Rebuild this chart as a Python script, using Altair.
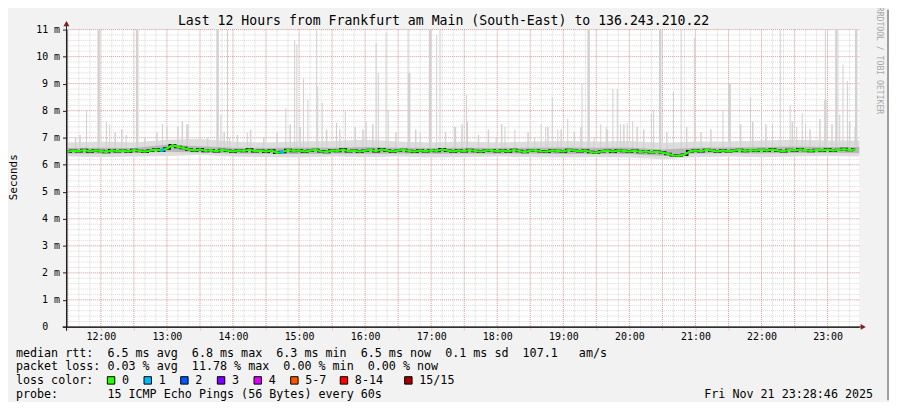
import altair as alt
import pandas as pd

MONO = "DejaVu Sans Mono"

# ---------------- text ----------------
TITLE = "Last 12 Hours from Frankfurt am Main (South-East) to 136.243.210.22"
SIDE_TEXT = "RRDTOOL / TOBI OETIKER"
Y_TITLE = "Seconds"
STAMP = "Fri Nov 21 23:28:46 2025"
legend_rows = [
    "median rtt:  6.5 ms avg  6.8 ms max  6.3 ms min  6.5 ms now  0.1 ms sd  107.1   am/s",
    "packet loss: 0.03 % avg  11.78 % max  0.00 % min  0.00 % now",
    "loss color:",
    "probe:       15 ICMP Echo Pings (56 Bytes) every 60s",
]
loss_labels = ["0", "1", "2", "3", "4", "5-7", "8-14", "15/15"]
loss_colors = ["#26ff00", "#00b8ff", "#0059ff", "#7e00ff", "#dd00ff", "#ff5500", "#ff0000", "#a10000"]

# ---------------- data ----------------
END_HOUR = 23 + 28.77 / 60          # graph ends 23:28:46
START_HOUR = END_HOUR - 12

median_first = "11:30"              # one value every 5 minutes
median_ms = [
    6.48, 6.52, 6.50, 6.55, 6.49, 6.53,
    6.51, 6.47, 6.54, 6.50, 6.52, 6.49, 6.55, 6.51, 6.48, 6.53, 6.56, 6.52,
    6.60, 6.72, 6.66, 6.62, 6.56, 6.53, 6.57, 6.51, 6.54, 6.50, 6.55, 6.52,
    6.49, 6.53, 6.51, 6.56, 6.50, 6.52, 6.48, 6.53, 6.44, 6.47, 6.55, 6.51,
    6.53, 6.49, 6.52, 6.55, 6.50, 6.47, 6.53, 6.51, 6.56, 6.50, 6.52, 6.48,
    6.52, 6.55, 6.50, 6.57, 6.53, 6.49, 6.52, 6.55, 6.51, 6.48, 6.53, 6.50,
    6.54, 6.51, 6.57, 6.52, 6.49, 6.53, 6.50, 6.55, 6.51, 6.48, 6.52, 6.54,
    6.50, 6.53, 6.49, 6.55, 6.51, 6.47, 6.52, 6.54, 6.50, 6.48, 6.53, 6.51,
    6.49, 6.55, 6.52, 6.50, 6.53, 6.47, 6.45, 6.50, 6.52, 6.48, 6.53, 6.51,
    6.49, 6.52, 6.47, 6.50, 6.46, 6.48, 6.45, 6.40, 6.35, 6.34, 6.37, 6.50,
    6.53, 6.50, 6.55, 6.52, 6.49, 6.53, 6.50, 6.52, 6.55, 6.51, 6.54, 6.52,
    6.55, 6.52, 6.56, 6.53, 6.50, 6.55, 6.53, 6.57, 6.54, 6.51, 6.55, 6.53,
    6.56, 6.52, 6.55, 6.58, 6.54, 6.57,
]

loss1_times = ["12:56", "14:44"]
loss1_ms = [6.55, 6.47]

smoke_times = ["11:30", "12:00", "12:30", "13:00", "13:30", "14:00", "14:30", "15:00",
               "15:30", "16:00", "16:30", "17:00", "17:30", "18:00", "18:30", "19:00",
               "19:30", "20:00", "20:30", "21:00", "21:30", "22:00", "22:30", "23:00", "23:30"]
light_lo = [6.30, 6.28, 6.30, 6.32, 6.36, 6.30, 6.28, 6.27, 6.30, 6.28, 6.30, 6.27, 6.28,
            6.30, 6.28, 6.27, 6.28, 6.27, 6.20, 6.28, 6.30, 6.28, 6.30, 6.32, 6.30]
light_hi = [6.82, 6.86, 6.82, 6.92, 6.95, 6.86, 6.82, 6.86, 6.88, 6.92, 6.86, 6.82, 6.86,
            6.82, 6.86, 6.88, 6.86, 6.88, 6.80, 6.86, 6.86, 6.90, 6.92, 6.90, 6.90]
dark_lo = [6.42, 6.41, 6.43, 6.48, 6.45, 6.42, 6.41, 6.40, 6.42, 6.41, 6.42, 6.41, 6.42,
           6.41, 6.42, 6.40, 6.41, 6.40, 6.32, 6.42, 6.43, 6.42, 6.43, 6.44, 6.43]
dark_hi = [6.62, 6.63, 6.62, 6.74, 6.68, 6.63, 6.62, 6.64, 6.63, 6.66, 6.63, 6.62, 6.63,
           6.62, 6.63, 6.64, 6.63, 6.64, 6.56, 6.63, 6.64, 6.66, 6.67, 6.66, 6.66]

spike_times = ["11:47", "12:05", "12:08", "12:23", "12:56", "13:00", "13:18", "13:49", "13:55",
               "13:57", "14:13", "14:48", "14:56", "14:58", "15:04", "15:08", "15:16", "15:17",
               "15:21", "15:34", "15:42", "16:01", "16:10", "16:12", "16:19", "16:21", "16:39",
               "16:50", "17:05", "17:08", "17:21", "17:32", "17:33", "17:59", "18:07", "18:16",
               "18:34", "18:40", "18:44", "18:50", "18:55", "19:04", "19:17", "19:28", "19:34",
               "19:39", "19:45", "19:49", "19:52", "19:58", "20:03", "20:20", "20:22", "20:40",
               "20:47", "20:59", "21:25", "21:50", "22:00", "22:10", "22:17", "22:26", "22:32",
               "22:37", "22:40", "22:58", "23:11", "23:14", "23:18"]
spike_top = [8.0, 7.6, 7.5, 7.1, 7.5, 7.4, 7.5, 7.85, 11.0,
             7.0, 7.2, 8.1, 10.6, 10.45, 9.2, 8.4, 11.0, 8.9,
             8.3, 7.55, 8.0, 7.6, 10.5, 9.4, 10.9, 8.0, 11.0,
             7.2, 10.8, 11.0, 7.4, 8.6, 7.6, 7.0, 7.4, 7.3,
             7.0, 7.5, 7.4, 8.5, 7.3, 7.7, 9.0, 7.0, 7.5,
             7.4, 8.8, 8.8, 7.5, 7.55, 7.6, 7.9, 8.0, 8.7,
             11.0, 10.7, 8.0, 8.5, 8.2, 7.5, 11.0, 8.2, 7.4,
             7.9, 7.5, 11.0, 7.85, 9.7, 9.1]

short_times = ["11:37", "11:41", "12:13", "12:19", "12:40", "12:51", "13:10", "13:14", "13:19",
               "13:37", "13:52", "14:04", "14:16", "14:28", "14:40", "14:52", "15:01", "15:25",
               "15:37", "15:51", "15:58", "16:07", "16:28", "16:46", "17:13", "17:22", "17:28",
               "17:43", "17:52", "18:04", "18:28", "18:46", "18:58", "19:10", "19:16", "19:40",
               "19:55", "20:07", "20:13", "20:34", "20:52", "21:05", "21:14", "21:41", "21:52",
               "22:04", "22:28", "22:44", "22:53", "23:04", "23:20", "23:25"]
short_top = [7.0, 7.1, 7.2, 7.3, 7.0, 7.2, 7.4, 7.6, 7.5,
             7.0, 7.2, 7.1, 7.3, 7.0, 7.2, 7.5, 7.4, 7.3,
             7.3, 7.4, 7.3, 7.5, 7.2, 7.3, 7.2, 7.4, 7.5,
             7.1, 7.3, 7.5, 7.2, 7.4, 7.3, 7.2, 7.4, 7.3,
             7.5, 7.4, 7.3, 7.2, 7.4, 7.2, 7.3, 7.5, 7.6,
             7.5, 7.6, 7.3, 7.7, 7.5, 7.6, 7.4]

heavy_times = ["11:58", "12:33", "13:46", "16:40", "16:59", "19:23", "20:28", "21:31",
               "22:58", "23:08", "23:26"]
heavy_top = [11.0, 11.0, 11.0, 9.4, 11.0, 11.0, 11.0, 9.0, 8.4, 11.0, 11.0]


def hrs(s):
    h, m = s.split(":")
    return int(h) + int(m) / 60


h0 = hrs(median_first)
med_df = pd.DataFrame({"t": [h0 + i * 5 / 60 for i in range(len(median_ms))], "ms": median_ms})
loss1_df = pd.DataFrame({"t": [hrs(s) for s in loss1_times], "ms": loss1_ms})
smoke_df = pd.DataFrame({"t": [hrs(s) for s in smoke_times], "llo": light_lo, "lhi": light_hi,
                         "dlo": dark_lo, "dhi": dark_hi})
spike_df = pd.DataFrame({"t": [hrs(s) for s in spike_times], "top": spike_top})
short_df = pd.DataFrame({"t": [hrs(s) for s in short_times], "top": short_top})
heavy_df = pd.DataFrame({"t": [hrs(s) for s in heavy_times], "top": heavy_top})

major_x = [11.5 + k * 0.5 for k in range(24)]
minor_x = [11.5 + k / 6 for k in range(72)]
major_y = list(range(1, 12))
minor_y = [round(k * 0.2, 2) for k in range(1, 56)]

# ---------------- layout (pixels, plot origin) ----------------
W, H = 800, 300
OX, OY = 67, 28          # page position of plot origin (incl. 8px page margin)


def px(x):
    return x - OX


def py(y):
    return y - OY


xs = alt.Scale(domain=[START_HOUR, END_HOUR], nice=False, zero=False)
ys = alt.Scale(domain=[0, 11], nice=False, zero=False)

x_axis = alt.Axis(values=major_x, labelOverlap=False,
                  labelExpr="abs(datum.value - round(datum.value)) < 0.01 ? round(datum.value) + ':00' : ''",
                  labelFont=MONO, labelFontSize=10, labelColor="#000000", labelPadding=2,
                  tickColor="#DE5050", tickOpacity=0.5, tickDash=[1, 1], tickSize=3,
                  domainColor="#1F1F1F", domainWidth=1, grid=False, title=None, zindex=1,
                  labelFlush=False)
y_axis = alt.Axis(values=list(range(0, 12)), labelOverlap=False,
                  labelExpr="datum.value == 0 ? '0' : datum.value + ' m'",
                  labelFont=MONO, labelFontSize=10, labelColor="#000000",
                  labelPadding={"condition": {"test": "datum.value == 0", "value": 15}, "value": 3},
                  tickColor="#1F1F1F", tickSize=4, domainColor="#1F1F1F", domainWidth=1,
                  grid=False, title=None, zindex=1)

gx = alt.X("t:Q", scale=xs, axis=None)

grid_minor_v = alt.Chart(pd.DataFrame({"t": minor_x})).mark_rule(
    color="#8F8F8F", opacity=0.35, strokeDash=[1, 1], strokeWidth=1).encode(x=gx)
grid_minor_h = alt.Chart(pd.DataFrame({"v": minor_y})).mark_rule(
    color="#8F8F8F", opacity=0.35, strokeDash=[1, 1], strokeWidth=1).encode(
    y=alt.Y("v:Q", scale=ys, axis=None))
grid_major_v = alt.Chart(pd.DataFrame({"t": major_x})).mark_rule(
    color="#DE5050", opacity=0.4, strokeDash=[1, 1], strokeWidth=1).encode(x=gx)
grid_major_h = alt.Chart(pd.DataFrame({"v": major_y})).mark_rule(
    color="#DE5050", opacity=0.4, strokeDash=[1, 1], strokeWidth=1).encode(
    y=alt.Y("v:Q", scale=ys, axis=None))

light = alt.Chart(smoke_df).mark_area(color="#DDDDDD", opacity=1, clip=True).encode(
    x=gx, y=alt.Y("llo:Q", scale=ys, axis=None), y2="lhi:Q")
shorts = alt.Chart(short_df).mark_rule(color="#D2D2D2", strokeWidth=1.5).encode(
    x=gx, y=alt.Y("top:Q", scale=ys, axis=None), y2=alt.datum(6.5))
spikes = alt.Chart(spike_df).mark_rule(color="#CFCFCF", strokeWidth=1).encode(
    x=gx, y=alt.Y("top:Q", scale=ys, axis=None), y2=alt.datum(6.5))
heavy = alt.Chart(heavy_df).mark_rule(color="#D2D2D2", strokeWidth=2.5).encode(
    x=gx, y=alt.Y("top:Q", scale=ys, axis=None), y2=alt.datum(6.5))
dark = alt.Chart(smoke_df).mark_area(color="#A8A8A8", opacity=0.7, clip=True).encode(
    x=gx, y=alt.Y("dlo:Q", scale=ys, axis=None), y2="dhi:Q")

black_line = alt.Chart(med_df).mark_line(color="#111111", strokeWidth=2.5, interpolate="step").encode(
    x=gx, y=alt.Y("ms:Q", scale=ys, axis=None))
green_line = alt.Chart(med_df).mark_line(color="#26ff00", strokeWidth=2.2).encode(
    x=alt.X("t:Q", scale=xs, axis=x_axis), y=alt.Y("ms:Q", scale=ys, axis=y_axis))
loss1 = alt.Chart(loss1_df).mark_square(color="#00b8ff", size=12, opacity=1).encode(
    x=gx, y=alt.Y("ms:Q", scale=ys, axis=None))

one = pd.DataFrame({"a": [0]})
y_ext = alt.Chart(one).mark_rule(color="#1F1F1F").encode(
    x=alt.value(0), y=alt.value(-5), y2=alt.value(4 + H))
x_ext = alt.Chart(one).mark_rule(color="#1F1F1F").encode(
    x=alt.value(-4), x2=alt.value(W + 2), y=alt.value(H))
arrow_up = alt.Chart(one).mark_point(shape="triangle-up", filled=True, size=36, opacity=1,
                                     color="#801F1F").encode(x=alt.value(0), y=alt.value(-6))
arrow_right = alt.Chart(one).mark_point(shape="triangle-right", filled=True, size=36, opacity=1,
                                        color="#801F1F").encode(x=alt.value(W + 4), y=alt.value(H))
right_border = alt.Chart(one).mark_rule(color="#9E9E9E", strokeWidth=2).encode(
    x=alt.value(px(896)), y=alt.value(py(8)), y2=alt.value(py(402)))


def text_layer(s, x, y, size=11.8, align="left", angle=0, color="#000000"):
    return alt.Chart(pd.DataFrame({"s": [s.replace(" ", "\u00a0")]})).mark_text(
        font=MONO, fontSize=size, align=align, baseline="middle", angle=angle, color=color
    ).encode(x=alt.value(x), y=alt.value(y), text="s:N")


texts = [
    text_layer(TITLE, px(447.5), py(19), size=13.3, align="center"),
    text_layer(Y_TITLE, px(14), py(177), size=11, align="center", angle=270),
    text_layer(SIDE_TEXT, px(887), py(5), size=8.2, align="left", angle=90, color="#A8A8A8"),
    text_layer(STAMP, px(881), py(396), size=11.8, align="right"),
]
row_y = [354, 368, 382, 396]
for s, yy in zip(legend_rows, row_y):
    texts.append(text_layer(s, px(16), py(yy)))

legend_x = [123, 160, 197, 234, 271, 308, 358, 423]
for lab, col, lx in zip(loss_labels, loss_colors, legend_x):
    texts.append(alt.Chart(one).mark_square(size=56, opacity=1, fill=col, stroke="#000000",
                                            strokeWidth=1).encode(
        x=alt.value(px(lx - 11)), y=alt.value(py(382))))
    texts.append(text_layer(lab, px(lx), py(382)))

chart = alt.layer(
    grid_minor_v, grid_minor_h, grid_major_v, grid_major_h,
    light, shorts, spikes, heavy, dark, black_line, green_line, loss1,
    y_ext, x_ext, arrow_up, arrow_right, right_border, *texts
).resolve_axis(x="independent", y="independent").properties(
    width=W, height=H,
    padding={"left": 59, "top": 20, "right": 30, "bottom": 74},
    autosize=alt.AutoSizeParams(type="none"),
    background="#F2F2F2",
).configure_view(fill="white", stroke=None)

chart.save("out.html", embed_options={"renderer": "svg", "actions": False})
